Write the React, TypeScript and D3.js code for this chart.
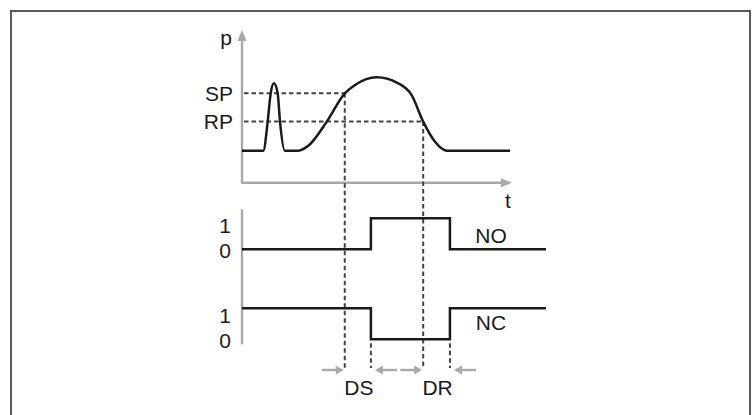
import { useEffect } from "react";
import * as d3 from "d3";

const W = 756;
const H = 415;

// pressure curve p(t)
const pressureT = [0, 7, 8.45, 9.44, 10.5, 11.74, 12.5, 14.1, 18.5, 22, 27.9, 33.8, 37.2, 44.3, 51.4, 55.8, 59.6, 63.5, 67.3, 88.2];
const pressureP = [21, 21, 40, 58.5, 65.1, 58.5, 40, 21, 21, 24.5, 40, 58.5, 64, 69, 65.1, 57.4, 40, 26.8, 21, 21];

// switching thresholds
const thresholdNames = ["SP", "RP"];
const thresholdValues = [58.5, 40];
const thresholdCrossT = [33.8, 59.6];

// contact outputs
const channels = ["NO", "NC"];
const stepT = [0, 42.4, 68.4, 100];
const noLevels = [0, 1, 0, 0];
const ncLevels = [1, 0, 1, 1];
const levelTicks = ["0", "1"];

// delays
const delayNames = ["DS", "DR"];
const delayStart = [33.8, 59.6];
const delayEnd = [42.4, 68.4];

const AXIS = "#a8a8a8";
const INK = "#1a1a1a";
const DASH = "#444";
const FONT = "'Liberation Sans', Arial, sans-serif";

const x = d3.scaleLinear().domain([0, 100]).range([242, 546]);
const p = d3.scaleLinear().domain([0, 100]).range([182.7, 30]);
const chan = d3.scalePoint<string>().domain(channels).range([249.3, 339.3]);
const lvl = d3.scaleLinear().domain([0, 1]).range([0, -31]);

const T_AXIS_END = 88.8;
const DELAY_Y = 370;

export default function App() {
  useEffect(() => {
    document.body.style.margin = "0";
  }, []);

  const pLine = d3
    .line<number>()
    .x((t) => x(t))
    .y((_t, i) => p(pressureP[i]))
    .curve(d3.curveMonotoneX);

  const stepLine = (name: string, levels: number[]) =>
    d3
      .line<number>()
      .x((t) => x(t))
      .y((_t, i) => chan(name)! + lvl(levels[i]))
      .curve(d3.curveStepAfter)(stepT)!;

  const x0 = x(0);
  const ncLow = chan("NC")! + lvl(0);

  const arrow = (tipX: number, dir: 1 | -1, key: string) => (
    <g key={key} stroke={AXIS} fill={AXIS}>
      <line x1={tipX - dir * 22} x2={tipX - dir * 7} y1={DELAY_Y} y2={DELAY_Y} strokeWidth={2.4} />
      <path d={`M${tipX},${DELAY_Y} L${tipX - dir * 8},${DELAY_Y - 4.5} L${tipX - dir * 8},${DELAY_Y + 4.5} Z`} stroke="none" />
    </g>
  );

  const dashProps = { stroke: DASH, strokeWidth: 2, strokeDasharray: "4.5 3" };
  const txt = { fontFamily: FONT, fontSize: 21, fill: INK } as const;

  return (
    <svg width={W} height={H} style={{ display: "block" }}>
      <rect width={W} height={H} fill="#fff" />
      {/* frame, open at the bottom */}
      <path d={`M11,${H} L11,11 L750,11 L750,${H}`} fill="none" stroke="#585858" strokeWidth={2} />

      {/* top graph axes */}
      <g stroke={AXIS} strokeWidth={2.4} fill="none">
        <line x1={x0} x2={x0} y1={p(0) + 1} y2={p(100) + 8} />
        <line x1={x0} x2={x(T_AXIS_END) - 8} y1={p(0)} y2={p(0)} />
      </g>
      <path d={`M${x0},${p(100)} L${x0 - 4.5},${p(100) + 11} L${x0 + 4.5},${p(100) + 11} Z`} fill={AXIS} />
      <path
        d={`M${x(T_AXIS_END)},${p(0)} L${x(T_AXIS_END) - 11},${p(0) - 4.5} L${x(T_AXIS_END) - 11},${p(0) + 4.5} Z`}
        fill={AXIS}
      />
      <text x={226} y={45} textAnchor="middle" {...txt}>p</text>
      <text x={508} y={208} textAnchor="middle" {...txt}>t</text>

      {/* thresholds */}
      {thresholdNames.map((n, i) => (
        <g key={n}>
          <line
            x1={x0 + 2}
            x2={x(thresholdCrossT[i])}
            y1={p(thresholdValues[i])}
            y2={p(thresholdValues[i])}
            {...dashProps}
          />
          <line
            x1={x(thresholdCrossT[i])}
            x2={x(thresholdCrossT[i])}
            y1={p(thresholdValues[i])}
            y2={DELAY_Y - 2}
            {...dashProps}
          />
          <text x={233} y={p(thresholdValues[i]) + 7.5} textAnchor="end" {...txt}>
            {n}
          </text>
        </g>
      ))}

      <path d={pLine(pressureT)!} fill="none" stroke={INK} strokeWidth={2.5} strokeLinejoin="round" />

      {/* lower graph */}
      <line x1={x0} x2={x0} y1={chan("NO")! - 40} y2={ncLow + 5} stroke={AXIS} strokeWidth={2.4} />
      {channels.map((c, ci) => (
        <g key={c}>
          <path d={stepLine(c, ci === 0 ? noLevels : ncLevels)} fill="none" stroke={INK} strokeWidth={2.5} />
          {levelTicks.map((lt, li) => (
            <text key={lt} x={225} y={chan(c)! + lvl(li) + (li === 1 ? 15 : 9)} textAnchor="middle" {...txt}>
              {lt}
            </text>
          ))}
          <text x={491} y={chan(c)! + (ci === 0 ? -6 : -9)} textAnchor="middle" {...txt}>
            {c}
          </text>
        </g>
      ))}

      {/* delays */}
      {delayNames.map((d, i) => (
        <g key={d}>
          <line
            x1={x(delayEnd[i])}
            x2={x(delayEnd[i])}
            y1={ncLow + 4}
            y2={DELAY_Y - 2}
            {...dashProps}
          />
          {arrow(x(delayStart[i]) - 1, 1, d + "a")}
          {arrow(x(delayEnd[i]) + 4, -1, d + "b")}
          <text x={(x(delayStart[i]) + x(delayEnd[i])) / 2 + 1} y={395} textAnchor="middle" {...txt}>
            {d}
          </text>
        </g>
      ))}
    </svg>
  );
}
